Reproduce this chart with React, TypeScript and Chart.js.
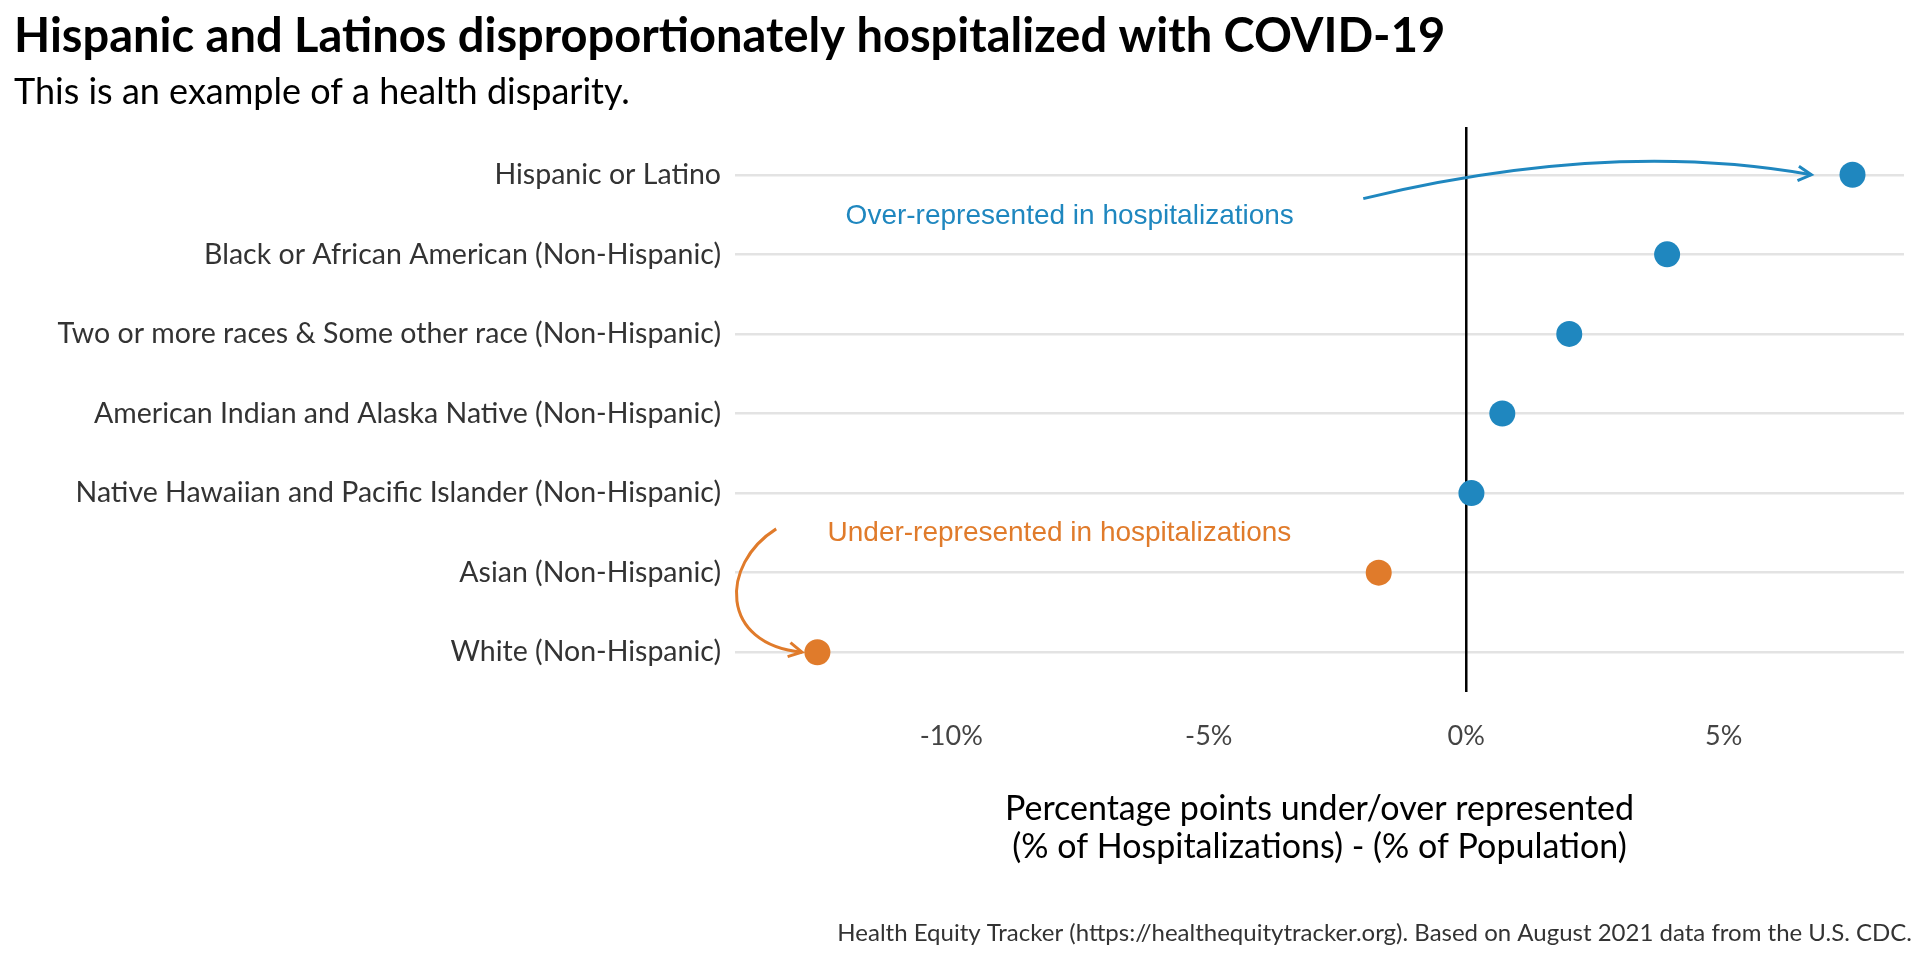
import React, { useEffect, useRef } from "react"
import { Chart, registerables } from "chart.js"

Chart.register(...registerables)

const categories = [
  "Hispanic or Latino",
  "Black or African American (Non-Hispanic)",
  "Two or more races & Some other race (Non-Hispanic)",
  "American Indian and Alaska Native (Non-Hispanic)",
  "Native Hawaiian and Pacific Islander (Non-Hispanic)",
  "Asian (Non-Hispanic)",
  "White (Non-Hispanic)",
]
const gaps = [7.5, 3.9, 2.0, 0.7, 0.1, -1.7, -12.6]
const xTicks = [-10, -5, 0, 5]

const BLUE = "#1f87bf"
const ORANGE = "#e07b2b"
const FONT = "Lato, 'Noto Sans', sans-serif"

const arrowHead = (ctx: CanvasRenderingContext2D, x: number, y: number, ang: number) => {
  const s = 15
  ctx.beginPath()
  ctx.moveTo(x - s * Math.cos(ang - 0.5), y - s * Math.sin(ang - 0.5))
  ctx.lineTo(x, y)
  ctx.lineTo(x - s * Math.cos(ang + 0.5), y - s * Math.sin(ang + 0.5))
  ctx.stroke()
}

const decor = {
  id: "decor",
  beforeDatasetsDraw(chart: any) {
    const { ctx, scales, chartArea } = chart
    const x = scales.x
    ctx.save()
    ctx.strokeStyle = "#000"
    ctx.lineWidth = 2.5
    const x0 = x.getPixelForValue(0)
    ctx.beginPath()
    ctx.moveTo(x0, chartArea.top - 8)
    ctx.lineTo(x0, chartArea.bottom)
    ctx.stroke()
    ctx.restore()
  },
  afterDraw(chart: any) {
    const { ctx, scales, chartArea } = chart
    const x = scales.x
    const y = scales.y
    const px = (v: number) => x.getPixelForValue(v)
    const py = (v: number) => y.getPixelForValue(v)
    ctx.save()
    ctx.textBaseline = "middle"
    ctx.fillStyle = "#000"
    ctx.textAlign = "left"
    ctx.font = `bold 47px ${FONT}`
    ctx.fillText("Hispanic and Latinos disproportionately hospitalized with COVID-19", 14, 37)
    ctx.font = `36px ${FONT}`
    ctx.fillText("This is an example of a health disparity.", 14, 92)
    ctx.textAlign = "center"
    ctx.font = `34px ${FONT}`
    const cx = (chartArea.left + chartArea.right) / 2
    ctx.fillText("Percentage points under/over represented", cx, 809)
    ctx.fillText("(% of Hospitalizations) - (% of Population)", cx, 847)
    ctx.textAlign = "right"
    ctx.font = `24px ${FONT}`
    ctx.fillStyle = "#333"
    ctx.fillText(
      "Health Equity Tracker (https://healthequitytracker.org). Based on August 2021 data from the U.S. CDC.",
      1912,
      933
    )
    // annotations
    ctx.font = `28px 'Liberation Sans', Arial, sans-serif`
    ctx.textAlign = "center"
    ctx.fillStyle = BLUE
    ctx.fillText("Over-represented in hospitalizations", px(-7.7), py(0.52))
    ctx.fillStyle = ORANGE
    ctx.fillText("Under-represented in hospitalizations", px(-7.9), py(4.5))
    ctx.lineWidth = 3
    ctx.strokeStyle = BLUE
    ctx.beginPath()
    ctx.moveTo(px(-2.0), py(0.3))
    ctx.quadraticCurveTo(px(2.8), py(-0.45), px(6.7), py(0))
    ctx.stroke()
    arrowHead(ctx, px(6.7), py(0), 0.1)
    ctx.strokeStyle = ORANGE
    ctx.beginPath()
    ctx.moveTo(px(-13.4), py(4.45))
    ctx.bezierCurveTo(px(-14.5), py(4.9), px(-14.5), py(5.9), px(-12.9), py(6))
    ctx.stroke()
    arrowHead(ctx, px(-12.9), py(6), 0.2)
    ctx.restore()
  },
}

export default function App() {
  const ref = useRef<HTMLCanvasElement>(null)

  useEffect(() => {
    document.body.style.margin = "0"
    if (!ref.current) return
    const chart = new Chart(ref.current, {
      type: "scatter",
      data: {
        datasets: [
          {
            data: gaps.map((v, i) => ({ x: v, y: i })),
            backgroundColor: gaps.map((v) => (v >= 0 ? BLUE : ORANGE)),
            borderWidth: 0,
            pointRadius: 13,
          },
        ],
      },
      plugins: [decor],
      options: {
        animation: false,
        responsive: false,
        layout: { padding: { top: 135, right: 16, left: 0, bottom: 0 } },
        plugins: { legend: { display: false }, tooltip: { enabled: false } },
        scales: {
          x: {
            type: "linear",
            min: -14.2,
            max: 8.5,
            afterBuildTicks: (s: any) => {
              s.ticks = xTicks.map((v) => ({ value: v }))
            },
            afterFit: (s: any) => {
              s.height = 268
            },
            grid: { display: false },
            border: { display: false },
            ticks: {
              padding: 20,
              color: "#444",
              font: { family: FONT, size: 27 },
              callback: (v: any) => `${v}%`,
            },
          },
          y: {
            type: "linear",
            min: -0.5,
            max: 6.5,
            reverse: true,
            afterBuildTicks: (s: any) => {
              s.ticks = categories.map((_, i) => ({ value: i }))
            },
            afterFit: (s: any) => {
              s.width = 735
            },
            grid: { color: "#e3e3e3", lineWidth: 2.5, drawTicks: false },
            border: { display: false },
            ticks: {
              padding: 14,
              color: "#333",
              font: { family: FONT, size: 28.5 },
              callback: (v: any) => categories[v as number] ?? "",
            },
          },
        },
      },
    })
    return () => chart.destroy()
  }, [])

  return <canvas ref={ref} width={1920} height={960} style={{ display: "block" }} />
}
